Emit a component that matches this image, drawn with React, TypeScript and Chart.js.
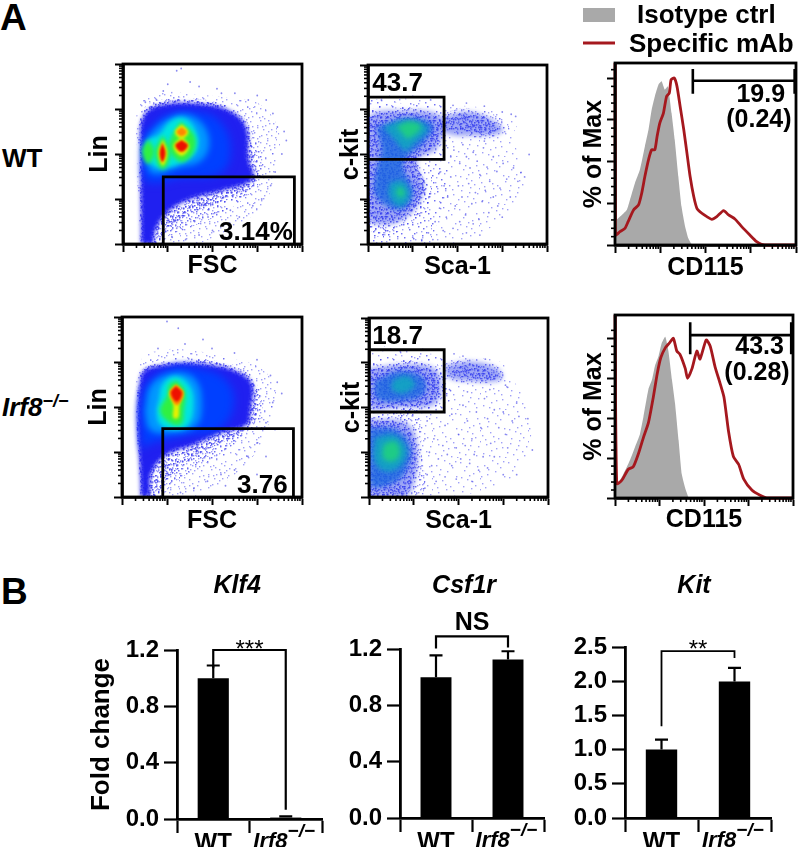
import React, { useEffect, useRef } from "react";
import { Chart, registerables } from "chart.js";

// ---------- density layers are read in decades of the flow-cytometry axes ----------
const levelColors = ["", "", "", "#2020f0", "#0040ff", "#0098ff", "#00e4e0", "#30f040", "#e8f000", "#ff8800", "#ee1000", "rgba(26,104,224,.8)", "rgba(16,168,192,.85)", "rgba(32,208,128,.9)", "", "rgba(40,60,235,.45)"];
const levelBlur = [.4, .4, .4, 2, 4, 3, 2, 2, 1.5, 1, 1, 2.5, 2.5, 2.5, .4, 2.5];
const speckleCopies: Record<number, number> = { 0: 1, 1: 2, 2: 5, 14: 14 };
const speckleDots = [[3, 7], [11, 2], [19, 9], [27, 4], [36, 1], [44, 8], [6, 16], [14, 13], [23, 18], [31, 12], [40, 15], [47, 20], [1, 25], [9, 22], [17, 28], [25, 24], [34, 21], [42, 27], [5, 34], [13, 31], [21, 37], [29, 33], [38, 30], [45, 36], [2, 43], [10, 40], [18, 46], [26, 42], [35, 39], [43, 45], [7, 11], [16, 5], [33, 8], [39, 23], [22, 3], [28, 19], [46, 13], [12, 26], [30, 28], [37, 35], [4, 29], [20, 32], [24, 47], [41, 41], [15, 38], [8, 45], [32, 44], [47, 31], [0, 18], [36, 17]];

type Contour = [number, number[], number[]];

const wtLinContours: Contour[] = [
  [1, [.37, .31, .36, .84, 1.66, 2.4, 3.07, 3.49, 3.41, 3.22, 2.78, 2.03, 1.6, .99], [0, 2.1, 3.06, 3.36, 3.32, 3.24, 3.1, 2.47, 1.73, 1.0, .55, .15, 0, 0]],
  [2, [.39, .37, .43, .84, 1.81, 2.48, 2.85, 3.07, 3.11, 2.93, 2.25, 1.58, 1.06, .8], [0, 2.1, 2.95, 3.21, 3.21, 2.99, 2.61, 2.1, 1.58, 1.21, .7, .4, .2, 0]],
  [14, [.4, .38, .45, .88, 1.81, 2.45, 2.8, 2.9, 3.0, 2.6, 1.9, 1.3, .95, .72], [0, 2.1, 2.9, 3.16, 3.16, 2.96, 2.6, 2.0, 1.42, 1.08, .85, .55, .25, 0]],
  [3, [.41, .40, .46, .91, 1.81, 2.4, 2.75, 2.8, 2.9, 2.25, 1.51, .99, .72, .65], [0, 2.1, 2.84, 3.1, 3.1, 2.95, 2.6, 1.9, 1.45, 1.2, 1.0, .7, .3, 0]],
  [4, [.5, .99, 1.81, 2.25, 2.4, 2.18, 1.28, .54, .45], [2.47, 2.87, 2.91, 2.61, 2.02, 1.58, 1.47, 1.39, 1.95]],
  [5, [.46, .57, 1.13, 1.62, 1.92, 1.77, 1.21, .65], [2.02, 2.39, 2.84, 2.8, 2.36, 1.87, 1.69, 1.58]],
  [6, [.46, .57, .8, 1.06, 1.36, 1.62, 1.66, 1.36, .91, .65], [2.06, 2.32, 2.43, 2.73, 2.8, 2.54, 2.1, 1.84, 1.69, 1.76]],
  [7, [.56, .7, .56, .43], [2.33, 2.06, 1.78, 2.06]],
  [7, [.89, 1.06, .89, .72], [2.42, 2.02, 1.65, 2.02]],
  [7, [1.28, 1.6, 1.55, 1.28, 1.03], [2.72, 2.39, 2.0, 1.83, 2.17]],
  [8, [.89, .99, .89, .79], [2.33, 2.02, 1.74, 2.02]],
  [8, [1.31, 1.46, 1.31, 1.16], [2.66, 2.49, 2.34, 2.49]],
  [8, [1.31, 1.48, 1.31, 1.13], [2.39, 2.17, 1.96, 2.17]],
  [10, [.88, .95, .88, .82], [2.25, 2.02, 1.82, 2.02]],
  [9, [1.31, 1.42, 1.31, 1.2], [2.6, 2.49, 2.4, 2.49]],
  [10, [1.31, 1.45, 1.31, 1.17], [2.31, 2.19, 2.05, 2.19]],
];

const koLinContours: Contour[] = [
  [1, [.39, .34, .4, .92, 1.66, 2.4, 3.07, 3.44, 3.3, 3.07, 2.63, 2.03, 1.5, 1.07], [0, 2.05, 3.01, 3.27, 3.24, 3.09, 2.87, 2.35, 1.76, 1.15, .6, .2, 0, 0]],
  [2, [.4, .4, .99, 1.88, 2.63, 3.0, 3.11, 2.85, 2.26, 1.59, 1.14, .85], [0, 2.72, 3.01, 3.05, 2.87, 2.5, 1.83, 1.53, 1.0, .6, .3, 0]],
  [14, [.41, .41, .99, 1.88, 2.6, 2.95, 3.0, 2.85, 2.2, 1.55, 1.05, .72], [0, 2.7, 2.98, 3.0, 2.83, 2.5, 1.85, 1.5, 1.2, .85, .45, 0]],
  [3, [.42, .42, .99, 1.88, 2.55, 2.89, 2.85, 2.78, 2.18, 1.59, .99, .66, .59], [0, 2.68, 2.94, 2.94, 2.79, 2.5, 1.9, 1.61, 1.42, 1.16, .94, .55, 0]],
  [4, [.44, .47, .99, 1.81, 2.33, 2.48, 2.18, 1.37, .55], [1.01, 2.35, 2.83, 2.83, 2.57, 2.05, 1.53, 1.35, 1.16]],
  [5, [.51, .66, 1.18, 1.63, 1.77, 1.63, .99, .62], [1.9, 2.5, 2.76, 2.61, 2.05, 1.57, 1.42, 1.5]],
  [6, [.81, .92, 1.22, 1.51, 1.59, 1.48, 1.18, .85, .77], [2.13, 2.53, 2.68, 2.46, 2.05, 1.61, 1.5, 1.61, 1.9]],
  [7, [1.22, 1.4, 1.37, 1.33, 1.14, .85, 1.01, 1.05], [2.59, 2.35, 1.9, 1.64, 1.61, 1.9, 2.27, 2.5]],
  [8, [1.2, 1.35, 1.28, 1.25, 1.14, 1.14, 1.05], [2.5, 2.31, 2.05, 1.76, 1.76, 2.05, 2.31]],
  [9, [1.2, 1.37, 1.22, 1.06], [2.5, 2.31, 2.04, 2.31]],
  [10, [1.2, 1.33, 1.22, 1.09], [2.46, 2.31, 2.12, 2.31]],
];

const wtScaContours: Contour[] = [
  [0, [0, 0, .86, 1.9, 2.72, 3.31, 3.24, 3.5, 3.24, 2.35, 1.6], [0, 3.22, 3.25, 3.11, 3.0, 2.7, 2.4, 1.51, .77, .17, 0]],
  [1, [0, 0, .86, 1.75, 1.68, 1.82, 1.6, 1.23], [0, 3.11, 3.14, 3.07, 2.18, 1.36, .62, 0]],
  [2, [1.6, 2.35, 3.09, 3.13, 2.72, 1.97, 1.6], [2.92, 3.03, 2.74, 2.55, 2.36, 2.48, 2.55]],
  [14, [1.68, 2.35, 2.87, 2.87, 2.35, 1.75], [2.81, 2.92, 2.66, 2.48, 2.51, 2.59]],
  [15, [1.65, 2.3, 2.9, 3.0, 2.4, 1.7], [2.85, 2.95, 2.7, 2.5, 2.42, 2.5]],
  [2, [0, 0, .86, 1.68, 1.64, 1.08, 1.45, .86, .19, 0], [1.5, 2.92, 3.03, 2.88, 2.18, 1.81, .99, .39, .17, .62]],
  [14, [0, 0, .78, 1.6, 1.49, 1.08, 1.3, .78, .11, 0], [1.5, 2.77, 2.92, 2.77, 2.22, 1.88, 1.21, .62, .54, .7]],
  [15, [0, 0, .9, 1.65, 1.55, 1.1, 1.25, .8, .1, 0], [1.4, 2.8, 2.98, 2.82, 2.15, 1.85, 1.2, .55, .45, .7]],
  [11, [.19, .89, 1.45, 1.23, .89, .78, 1.01, .71, .19, .19, .3], [2.62, 2.81, 2.66, 2.25, 1.96, 1.73, 1.14, .77, 1.06, 1.66, 2.1]],
  [12, [.34, .86, 1.34, 1.01, .82, .63], [2.62, 2.77, 2.59, 2.22, 2.1, 2.29]],
  [12, [.48, .78, .93, .71, .48], [1.36, 1.4, 1.06, .84, 1.06]],
  [13, [.63, .93, 1.19, .89, .74], [2.62, 2.74, 2.62, 2.36, 2.51]],
  [13, [.71, .82, .74, .63], [1.29, 1.17, 1.03, 1.17]],
];

const koScaContours: Contour[] = [
  [0, [0, 0, 1.06, 1.96, 2.92, 3.14, 3.52, 3.59, 3.07, 1.58], [0, 3.22, 3.26, 3.14, 3.03, 2.73, 2.06, 1.17, .35, 0]],
  [2, [1.66, 2.33, 2.92, 3.0, 2.33, 1.73], [2.99, 3.07, 2.88, 2.62, 2.55, 2.66]],
  [14, [1.88, 2.33, 2.85, 2.85, 2.33, 1.88], [2.88, 2.96, 2.77, 2.62, 2.66, 2.73]],
  [15, [1.7, 2.33, 2.9, 2.95, 2.33, 1.75], [2.95, 3.03, 2.85, 2.62, 2.58, 2.68]],
  [1, [0, .91, 1.66, 1.66, 0], [3.07, 3.18, 3.07, 1.91, 1.84]],
  [2, [0, .99, 1.62, 1.58, 0], [2.96, 3.03, 2.88, 2.06, 1.99]],
  [14, [0, .99, 1.51, 1.43, .69, 0], [2.85, 2.92, 2.73, 2.14, 2.03, 2.06]],
  [15, [0, .99, 1.55, 1.5, .7, 0], [2.88, 2.97, 2.78, 2.1, 2.0, 2.02]],
  [11, [.13, .69, 1.21, 1.21, .62, .17], [2.59, 2.81, 2.66, 2.29, 2.14, 2.21]],
  [12, [.54, .84, 1.03, .77, .51], [2.62, 2.7, 2.51, 2.32, 2.4]],
  [2, [0, 1.06, 1.17, 1.14, 0], [1.84, 1.77, 1.09, 0, 0]],
  [14, [0, .77, 1.03, .99, .77, 0], [1.73, 1.62, 1.17, .42, 0, 0]],
  [15, [0, .85, 1.08, 1.02, .8, 0], [1.75, 1.65, 1.15, .35, 0, 0]],
  [11, [0, .62, .91, .88, .62, .02], [1.54, 1.5, 1.17, .72, .35, .28]],
  [12, [.13, .54, .84, .73, .39, .13], [1.32, 1.39, 1.09, .72, .57, .8]],
  [13, [.32, .58, .69, .54, .32], [1.17, 1.24, .98, .8, .87]],
];

const wtLinEvents = [[1.2, 3.85], [1.3, 3.9], [.9, 3.4], [1.0, 3.55], [1.5, 3.6], [1.7, 3.5], [2.1, 3.45], [2.5, 3.35], [3.0, 3.3], [3.2, 3.2], [3.35, 2.9], [3.6, 2.5], [3.65, 2.3], [3.45, 2.6], [3.55, 2.0], [3.4, 1.6], [3.3, 1.3], [3.1, 1.0], [2.9, .85], [2.6, .6], [2.3, .45], [2, .3], [1.7, .2], [1.4, .1], [.75, 3.2], [1.6, .5], [1.2, .35], [1.9, .6], [2.4, .75], [1.1, .15], [.5, 3.15], [2.2, 3.35], [2.8, 3.2]];
const koLinEvents = [[1.0, 3.9], [1.25, 3.75], [1.8, 3.5], [.8, 3.3], [1.4, 3.4], [2.0, 3.3], [2.5, 3.2], [3.0, 3.05], [3.3, 2.7], [3.45, 2.55], [3.55, 2.3], [3.35, 2.1], [3.2, 1.65], [3.4, 1.5], [3.0, 1.2], [2.8, .9], [2.5, .6], [2.2, .5], [1.9, .35], [1.6, .2], [1.3, .1], [3.6, .3], [3.0, .5], [2.7, .3], [2.3, .25], [3.2, .9]];
const wtScaEvents = [[1.75, 2.2], [1.85, 1.95], [1.92, 2.1], [2.05, 1.8], [2.12, 2.22], [2.2, 1.95], [2.28, 1.7], [2.35, 2.05], [2.44, 1.85], [2.5, 1.55], [2.58, 2.15], [2.66, 1.72], [2.72, 1.4], [2.8, 1.95], [2.88, 1.62], [2.95, 1.25], [3.02, 1.8], [3.1, 1.45], [3.18, 1.05], [3.25, 1.7], [3.35, 1.4], [3.42, 1.6], [3.5, 1.5], [1.6, 1.6], [1.7, 1.3], [1.78, 1.05], [1.85, 1.5], [1.95, .85], [2.02, 1.3], [2.1, 1.05], [2.18, .65], [2.25, 1.35], [2.32, .9], [2.4, 1.15], [2.48, .55], [2.55, .95], [2.62, 1.2], [2.7, .7], [2.8, 1.05], [2.9, .85], [3.0, .6], [1.5, .5], [1.6, .8], [1.68, .3], [1.75, .6], [1.9, .35], [2.05, .5], [2.2, .25], [2.35, .45], [2.5, .2], [1.35, .25], [1.2, .1], [1.45, .1], [1.0, .15], [2.6, 2.3], [3.3, 2.85], [3.0, 2.95], [2.6, 3.08], [2.2, 3.15], [1.9, 3.1], [1.4, 3.22], [1.0, 3.3], [.6, 3.28], [.3, 3.22], [3.6, 2.0], [3.2, 2.9]];
const koScaEvents = [[1.3, 1.7], [1.5, 1.95], [1.7, 1.6], [1.85, 1.85], [2.0, 1.4], [2.1, 2.05], [2.2, 1.7], [2.3, 1.3], [2.4, 1.9], [2.5, 1.55], [2.58, 2.2], [2.65, 1.75], [2.72, 1.2], [2.8, 1.95], [2.9, 1.55], [3.0, 1.9], [3.05, 1.4], [3.1, 1.1], [3.2, 1.7], [3.3, 2.1], [3.35, 1.8], [3.55, 1.75], [3.65, 1.05], [1.25, 1.3], [1.35, 1.0], [1.45, 1.3], [1.55, .85], [1.65, 1.15], [1.75, .95], [1.85, .7], [1.95, 1.1], [2.05, .85], [2.15, 1.15], [2.25, .75], [2.35, .95], [2.45, .6], [2.55, .9], [2.65, .65], [2.8, .9], [3.0, .5], [3.3, .5], [1.3, .5], [1.4, .7], [1.5, .35], [1.25, .2], [1.7, .45], [1.95, .4], [2.3, .35], [1.8, 2.4], [2.2, 2.35], [2.7, 2.4], [3.1, 2.45], [2.1, 3.15], [2.6, 3.08], [1.9, 3.2], [1.2, 3.3], [.7, 3.25], [3.05, 2.5]];

const wtLinGate = [[.9, 0], [.9, 1.49], [3.83, 1.49], [3.83, 0]];
const koLinGate = [[.906, 0], [.906, 1.52], [3.81, 1.52], [3.81, 0]];
const wtScaGate = [[0, 1.89], [1.7, 1.89], [1.7, 3.28], [0, 3.28]];
const koScaGate = [[0, 1.9], [1.68, 1.9], [1.68, 3.29], [0, 3.29]];

// ---------- histograms ----------
const wtIsoX = [0, .11, .26, .33, .44, .55, .66, .74, .81, .88, .96, 1.03, 1.1, 1.17, 1.25, 1.32, 1.4, 1.47, 1.55, 1.62, 1.69, 1.75];
const wtIsoY = [14, 17, 21, 27, 37, 45, 59, 69, 81, 89, 96, 98, 93, 95, 79, 63, 41, 23, 11, 4, .6, 0];
const wtMabX = [0, .01, .11, .22, .29, .41, .52, .59, .66, .74, .81, .88, .93, .99, 1.07, 1.14, 1.2, 1.24, 1.31, 1.37, 1.44, 1.52, 1.59, 1.66, 1.74, 1.81, 1.92, 2.03, 2.14, 2.25, 2.4, 2.51, 2.65, 2.8, 2.98, 3.13, 3.24, 3.42, 4];
const wtMabY = [109, 6, 8, 10, 14, 21, 24, 31, 41, 51, 57, 57, 65, 73, 79, 89, 91, 99, 100, 95, 83, 69, 55, 41, 29, 22, 19, 17, 15.4, 17, 20.6, 18, 15.6, 11, 6, 2, .4, 0, 0];
const koIsoX = [0, .11, .23, .34, .45, .56, .64, .75, .83, .9, .98, 1.05, 1.13, 1.2, 1.28, 1.35, 1.43, 1.5, 1.58, 1.65, 1.69];
const koIsoY = [8, 11, 17.4, 24, 32, 40, 51, 68, 74, 83, 89, 97, 101, 92, 74, 59, 36, 15, 6, .6, 0];
const koMabX = [0, .04, .15, .3, .41, .53, .64, .75, .86, .95, 1.03, 1.13, 1.22, 1.31, 1.39, 1.46, 1.58, 1.63, 1.73, 1.84, 1.91, 2.05, 2.14, 2.25, 2.36, 2.45, 2.55, 2.66, 2.78, 2.89, 3.08, 3.26, 3.41, 4];
const koMabY = [114.6, 9, 11, 18, 19.5, 28, 38, 47, 63, 78, 88, 94, 97, 100, 92, 90, 81, 75, 81, 92, 87, 99, 95, 82, 72, 63, 42, 26, 21, 12, 4.8, 1.7, 0, 0];
const wtHistMarker = [[1.72, 105.4], [1.72, 90.6], [1.72, 98.4], [3.97, 98.4], [3.97, 105.4], [3.97, 90.6]];
const koHistMarker = [[1.69, 110], [1.69, 90], [1.69, 102], [3.96, 102], [3.96, 110], [3.96, 90]];
const histMajorTicks = [0, 25, 50, 75, 100];
const histMinorTicks = [5, 10, 15, 20, 30, 35, 40, 45, 55, 60, 65, 70, 80, 85, 90, 95, 105];
const decadeTicks = [0, 1, 2, 3, 4];
const logOffsets = [.301, .477, .602, .699, .778, .845, .903, .954];
const legendLabels = ["Isotype ctrl", "Specific mAb"];

// ---------- bars ----------
const genotypes = ["WT", "Irf8"];
const genes = ["Klf4", "Csf1r", "Kit"];
const klf4Means = [1.0, .01];
const klf4Upper = [1.09, .018];
const csf1rMeans = [1.0, 1.125];
const csf1rUpper = [1.155, 1.184];
const kitMeans = [1.0, 1.995];
const kitUpper = [1.146, 2.195];

const FONT = '"Liberation Sans", Arial, sans-serif';
const RED = "#a5181e";

Chart.register({
  id: "densityBlur",
  beforeDatasetDraw(chart: any, args: any) {
    const b = (chart.data.datasets[args.index] as any).blur;
    if (b) { chart.ctx.save(); chart.ctx.filter = `blur(${b}px)`; }
  },
  afterDatasetDraw(chart: any, args: any) {
    if ((chart.data.datasets[args.index] as any).blur) chart.ctx.restore();
  },
} as any);
Chart.register(...registerables);
Chart.defaults.font.family = FONT;

const pts = (p: number[][]) => p.map(([x, y]) => ({ x, y }));
const zip = (xs: number[], ys: number[]) => xs.map((x, i) => ({ x, y: ys[i] }));

// A repeating speckle texture for the sparsely populated density levels.
const speckleVariants = [
  (x: number, y: number) => [x, y], (x: number, y: number) => [y, 47 - x], (x: number, y: number) => [47 - x, 47 - y],
  (x: number, y: number) => [47 - y, x], (x: number, y: number) => [x, 47 - y], (x: number, y: number) => [47 - x, y],
  (x: number, y: number) => [y, x], (x: number, y: number) => [47 - y, 47 - x],
];
const speckleCache: Record<number, any> = {};
function speckle(level: number) {
  if (speckleCache[level]) return speckleCache[level];
  const c = document.createElement("canvas");
  c.width = 48; c.height = 48;
  const g = c.getContext("2d") as CanvasRenderingContext2D;
  g.fillStyle = "rgba(65,65,240,.5)";
  for (let k = 0; k < speckleCopies[level]; k++) {
    const v = speckleVariants[k % 8];
    const shift = k >= 8 ? 17 : 0;
    speckleDots.forEach(([x, y]) => {
      const [a, b] = v(x, y);
      g.fillRect((a + shift) % 48, (b + shift) % 48, 1.4, 1.4);
    });
  }
  speckleCache[level] = g.createPattern(c, "repeat");
  return speckleCache[level];
}
const levelFill = (lev: number) => (levelColors[lev] ? levelColors[lev] : speckle(lev));

function axisBase(extra: any) {
  return {
    type: "linear",
    border: { display: true, width: 2.8, color: "#000" },
    grid: { drawOnChartArea: false, tickLength: 8, tickWidth: 2, tickColor: "#000" },
    ticks: { display: false },
    ...extra,
  };
}

function cytoOptions(p: any) {
  return {
    responsive: false,
    animation: false,
    events: [],
    layout: { autoPadding: false, padding: { top: p.mt, right: p.mr, left: 0, bottom: 0 } },
    plugins: { legend: { display: false }, tooltip: { enabled: false } },
    scales: {
      x: axisBase({
        min: 0, max: 4,
        afterBuildTicks: (s: any) => { s.ticks = decadeTicks.map((value) => ({ value })); },
        afterFit: (s: any) => { s.height = p.mb; },
        title: { display: true, text: p.xTitle, color: "#000", font: { size: 25, weight: "bold" }, padding: 0 },
      }),
      y: axisBase({
        min: 0, max: p.yMax,
        afterBuildTicks: (s: any) => { s.ticks = (p.yMajor).map((value: number) => ({ value })); },
        afterFit: (s: any) => { s.width = p.ml; },
        title: { display: true, text: p.yTitle, color: "#000", font: { size: 25, weight: "bold" }, padding: 0 },
      }),
    },
  };
}

const cytoDecor = (p: any) => ({
  id: "cytoDecor",
  afterDatasetsDraw(chart: any) {
    const { ctx, chartArea: a, scales } = chart;
    ctx.save();
    ctx.strokeStyle = "#000";
    ctx.lineWidth = 1.6;
    decadeTicks.slice(0, 4).forEach((d) => logOffsets.forEach((o) => {
      const x = scales.x.getPixelForValue(d + o);
      ctx.beginPath(); ctx.moveTo(x, a.bottom); ctx.lineTo(x, a.bottom + 4); ctx.stroke();
    }));
    const minorY = p.yMinor || decadeTicks.slice(0, 4).flatMap((d) => logOffsets.map((o) => d + o));
    minorY.forEach((v: number) => {
      const y = scales.y.getPixelForValue(v);
      ctx.beginPath(); ctx.moveTo(a.left, y); ctx.lineTo(a.left - 4, y); ctx.stroke();
    });
    ctx.lineWidth = 2.8;
    ctx.strokeRect(a.left, a.top, a.right - a.left, a.bottom - a.top);
    ctx.fillStyle = "#000";
    ctx.font = `bold ${p.hist ? 25 : 26}px ${FONT}`;
    ctx.textAlign = "center";
    ctx.textBaseline = "middle";
    (p.notes || []).forEach(([text, x, y]: any) => {
      ctx.fillText(text, scales.x.getPixelForValue(x), scales.y.getPixelForValue(y));
    });
    if (p.legend) {
      const ds = chart.data.datasets;
      ctx.fillStyle = "#a9a9a9";
      ctx.fillRect(583 - p.left, 8, 32, 14);
      ctx.strokeStyle = RED;
      ctx.lineWidth = 3;
      ctx.beginPath(); ctx.moveTo(583 - p.left, 43); ctx.lineTo(615 - p.left, 43); ctx.stroke();
      ctx.fillStyle = "#000";
      ctx.font = `bold 26px ${FONT}`;
      ctx.textAlign = "left";
      ctx.fillText(ds[0].label, 637 - p.left, 16);
      ctx.fillText(ds[1].label, 629 - p.left, 45);
    }
    ctx.restore();
  },
});

function flowDatasets(contours: Contour[], events: number[][], gate: number[][]) {
  const sets: any[] = contours.map(([lev, xs, ys]) => {
    const data = zip(xs, ys);
    data.push(data[0]);
    return { data, backgroundColor: levelFill(lev), fill: "shape", borderWidth: 0, pointRadius: 0, tension: .4, blur: levelBlur[lev] };
  });
  sets.push({ data: pts(events), showLine: false, pointRadius: .9, pointBorderWidth: 0, pointBackgroundColor: "rgba(60,60,230,.6)" });
  sets.push({ data: pts(gate), borderColor: "#000", borderWidth: 2.8, pointRadius: 0, tension: 0, fill: false });
  sets.forEach((s, i) => { s.order = -i; });
  return sets;
}

function histDatasets(isoX: number[], isoY: number[], mabX: number[], mabY: number[], marker: number[][]) {
  return [
    { label: legendLabels[0], data: zip(isoX, isoY), backgroundColor: "#a9a9a9", fill: "origin", borderWidth: 0, pointRadius: 0, tension: .15, order: 3 },
    { label: legendLabels[1], data: zip(mabX, mabY), borderColor: RED, borderWidth: 2.8, fill: false, pointRadius: 0, tension: .2, order: 2, clip: 2 },
    { label: "gate", data: pts(marker), borderColor: "#000", borderWidth: 2.6, fill: false, pointRadius: 0, tension: 0, order: 1 },
  ];
}

const cytoPanels: any[] = [
  { frame: [123, 64, 302, 244], ml: 38, mt: 4, mr: 5, mb: 37, xTitle: "FSC", yTitle: "Lin", yMax: 4, yMajor: decadeTicks, notes: [["3.14%", 2.97, .25]], contours: wtLinContours, events: wtLinEvents, gate: wtLinGate },
  { frame: [368, 65, 547, 244], ml: 32, mt: 4, mr: 5, mb: 38, xTitle: "Sca-1", yTitle: "c-kit", yMax: 4, yMajor: decadeTicks, notes: [["43.7", .66, 3.57]], contours: wtScaContours, events: wtScaEvents, gate: wtScaGate },
  { frame: [615, 63, 796, 245], ml: 36, mt: 63, mr: 2, mb: 38, xTitle: "CD115", yTitle: "% of Max", yMax: 109, yMajor: histMajorTicks, yMinor: histMinorTicks, legend: true, notes: [["19.9", 3.22, 89.6], ["(0.24)", 3.18, 74.6]], hist: [wtIsoX, wtIsoY, wtMabX, wtMabY, wtHistMarker] },
  { frame: [122, 317, 302, 497], ml: 38, mt: 4, mr: 5, mb: 39, xTitle: "FSC", yTitle: "Lin", yMax: 4, yMajor: decadeTicks, notes: [["3.76", 3.12, .25]], contours: koLinContours, events: koLinEvents, gate: koLinGate },
  { frame: [369, 318, 548, 497], ml: 32, mt: 4, mr: 5, mb: 39, xTitle: "Sca-1", yTitle: "c-kit", yMax: 4, yMajor: decadeTicks, notes: [["18.7", .64, 3.59]], contours: koScaContours, events: koScaEvents, gate: koScaGate },
  { frame: [615, 315, 793, 498], ml: 36, mt: 4, mr: 5, mb: 37, xTitle: "CD115", yTitle: "% of Max", yMax: 114.6, yMajor: histMajorTicks, yMinor: histMinorTicks, notes: [["43.3", 3.25, 94.3], ["(0.28)", 3.19, 78.2]], hist: [koIsoX, koIsoY, koMabX, koMabY, koHistMarker] },
];
cytoPanels.forEach((p) => { p.left = p.frame[0] - p.ml; });

const barPanels: any[] = [
  { left: 80, ml: 97, mt: 80, right: 322, mb: 28, gene: genes[0], titleAt: .33, means: klf4Means, upper: klf4Upper, yMax: 1.2, step: .4, yTitle: "Fold change", bracket: [1.2, 1.07, .066], mark: "***", markFont: "24px", markShift: 0, lw: 2.2 },
  { left: 340, ml: 60, mt: 79, right: 544, mb: 29, gene: genes[1], titleAt: .39, means: csf1rMeans, upper: csf1rUpper, yMax: 1.2, step: .4, bracket: [1.29, 1.203, 1.21], mark: "NS", markFont: "bold 25px", markShift: -13, lw: 2.2 },
  { left: 572, ml: 53, mt: 77, right: 771, mb: 29, gene: genes[2], titleAt: .445, means: kitMeans, upper: kitUpper, yMax: 2.5, step: .5, bracket: [2.44, 1.34, 2.34], mark: "**", markFont: "24px", markShift: -1, lw: 1.8 },
];
const tickPad = "\u00A0\u00A0\u00A0\u00A0\u00A0";

const barDecor = (p: any) => ({
  id: "barDecor",
  afterDatasetsDraw(chart: any) {
    const { ctx, scales: { x, y } } = chart;
    ctx.save();
    ctx.strokeStyle = "#000";
    ctx.fillStyle = "#000";
    ctx.lineWidth = 2.2;
    p.upper.forEach((u: number, i: number) => {
      const cx = x.getPixelForValue(i);
      ctx.beginPath();
      ctx.moveTo(cx, y.getPixelForValue(p.means[i]));
      ctx.lineTo(cx, y.getPixelForValue(u));
      ctx.moveTo(cx - 6.5, y.getPixelForValue(u));
      ctx.lineTo(cx + 6.5, y.getPixelForValue(u));
      ctx.stroke();
    });
    const [top, footL, footR] = p.bracket;
    ctx.lineWidth = p.lw;
    ctx.beginPath();
    ctx.moveTo(x.getPixelForValue(0), y.getPixelForValue(footL));
    ctx.lineTo(x.getPixelForValue(0), y.getPixelForValue(top));
    ctx.lineTo(x.getPixelForValue(1), y.getPixelForValue(top));
    ctx.lineTo(x.getPixelForValue(1), y.getPixelForValue(footR));
    ctx.stroke();
    ctx.textAlign = "center";
    ctx.textBaseline = "middle";
    ctx.font = `${p.markFont} ${FONT}`;
    ctx.fillText(p.mark, x.getPixelForValue(.5), y.getPixelForValue(top) + p.markShift);
    ctx.font = `italic bold 25px ${FONT}`;
    ctx.fillText(p.gene, x.getPixelForValue(p.titleAt), 16);
    // superscript of the knock-out tick label
    ctx.font = `italic bold 22px ${FONT}`;
    const w = ctx.measureText(genotypes[1]).width;
    const gap = ctx.measureText(tickPad).width;
    ctx.textAlign = "left";
    const sx = x.getPixelForValue(1) - (w + gap) / 2 + w;
    ctx.font = `italic bold 19px ${FONT}`;
    ctx.fillText("\u2212/\u2212", sx, y.bottom + 13);
    ctx.restore();
  },
});

export default function App() {
  const cytoRefs = useRef<(HTMLCanvasElement | null)[]>([]);
  const barRefs = useRef<(HTMLCanvasElement | null)[]>([]);

  useEffect(() => {
    const charts: Chart[] = [];
    cytoPanels.forEach((p, i) => {
      const datasets = p.hist ? histDatasets(p.hist[0], p.hist[1], p.hist[2], p.hist[3], p.hist[4]) : flowDatasets(p.contours, p.events, p.gate);
      charts.push(new Chart(cytoRefs.current[i] as any, {
        type: "line",
        data: { datasets },
        options: cytoOptions(p) as any,
        plugins: [cytoDecor(p)],
      } as any));
    });
    barPanels.forEach((p, i) => {
      charts.push(new Chart(barRefs.current[i] as any, {
        type: "bar",
        data: {
          labels: genotypes,
          datasets: [{ data: p.means, backgroundColor: "#000", barPercentage: .43, categoryPercentage: 1 }],
        },
        options: {
          responsive: false,
          animation: false,
          events: [],
          layout: { autoPadding: false, padding: { top: p.mt, right: 4, left: 0, bottom: 0 } },
          plugins: { legend: { display: false }, tooltip: { enabled: false } },
          scales: {
            x: {
              border: { display: true, width: 2.8, color: "#000" },
              grid: { offset: true, drawOnChartArea: false, tickLength: 14, tickWidth: 2.2, tickColor: "#000" },
              ticks: {
                color: "#000",
                padding: -4,
                maxRotation: 0,
                autoSkip: false,
                callback: (_v: any, i: number) => (i === 1 ? genotypes[1] + tickPad : genotypes[0]),
                font: (c: any) => (c.index === 1 ? { size: 22, weight: "bold", style: "italic" } : { size: 24, weight: "bold" }),
              },
              afterFit: (s: any) => { s.height = p.mb; },
            },
            y: {
              min: 0,
              max: p.yMax,
              border: { display: true, width: 2.8, color: "#000" },
              grid: { drawOnChartArea: false, tickLength: 13, tickWidth: 2.2, tickColor: "#000" },
              ticks: { stepSize: p.step, color: "#000", padding: 5, font: { size: 24, weight: "bold" }, callback: (v: any) => Number(v).toFixed(1) },
              title: { display: !!p.yTitle, text: p.yTitle, color: "#000", font: { size: 26, weight: "bold" }, padding: { top: 6, bottom: 0 } },
              afterFit: (s: any) => { s.width = p.ml; },
            },
          },
        } as any,
        plugins: [barDecor(p)],
      } as any));
    });
    return () => charts.forEach((c) => c.destroy());
  }, []);

  const abs = (left: number, top: number, extra: any = {}) => ({ position: "absolute", left, top, fontFamily: FONT, fontWeight: "bold", color: "#000", lineHeight: 1, whiteSpace: "nowrap", ...extra });

  return (
    <div style={{ position: "absolute", left: 0, top: 0, width: 798, height: 847, overflow: "hidden", background: "#fff" }}>
      {cytoPanels.map((p, i) => {
        const [l, t, r, b] = p.frame;
        return (
          <canvas key={i} ref={(e) => { cytoRefs.current[i] = e; }} width={r - l + p.ml + p.mr} height={b - t + p.mt + p.mb}
            style={{ position: "absolute", left: l - p.ml, top: t - p.mt, display: "block" }} />
        );
      })}
      {barPanels.map((p, i) => (
        <canvas key={i} ref={(e) => { barRefs.current[i] = e; }} width={p.right - p.left + 4} height={277}
          style={{ position: "absolute", left: p.left, top: 570, display: "block" }} />
      ))}
      <div style={abs(0, -1, { fontSize: 37 }) as any}>A</div>
      <div style={abs(1, 573, { fontSize: 37 }) as any}>B</div>
      <div style={abs(2, 145, { fontSize: 26 }) as any}>WT</div>
      <div style={abs(2, 394, { fontSize: 26, fontStyle: "italic" }) as any}>Irf8<sup style={{ fontSize: 18, verticalAlign: "9px", lineHeight: 0 }}>{"\u2212/\u2212"}</sup></div>
    </div>
  );
}
